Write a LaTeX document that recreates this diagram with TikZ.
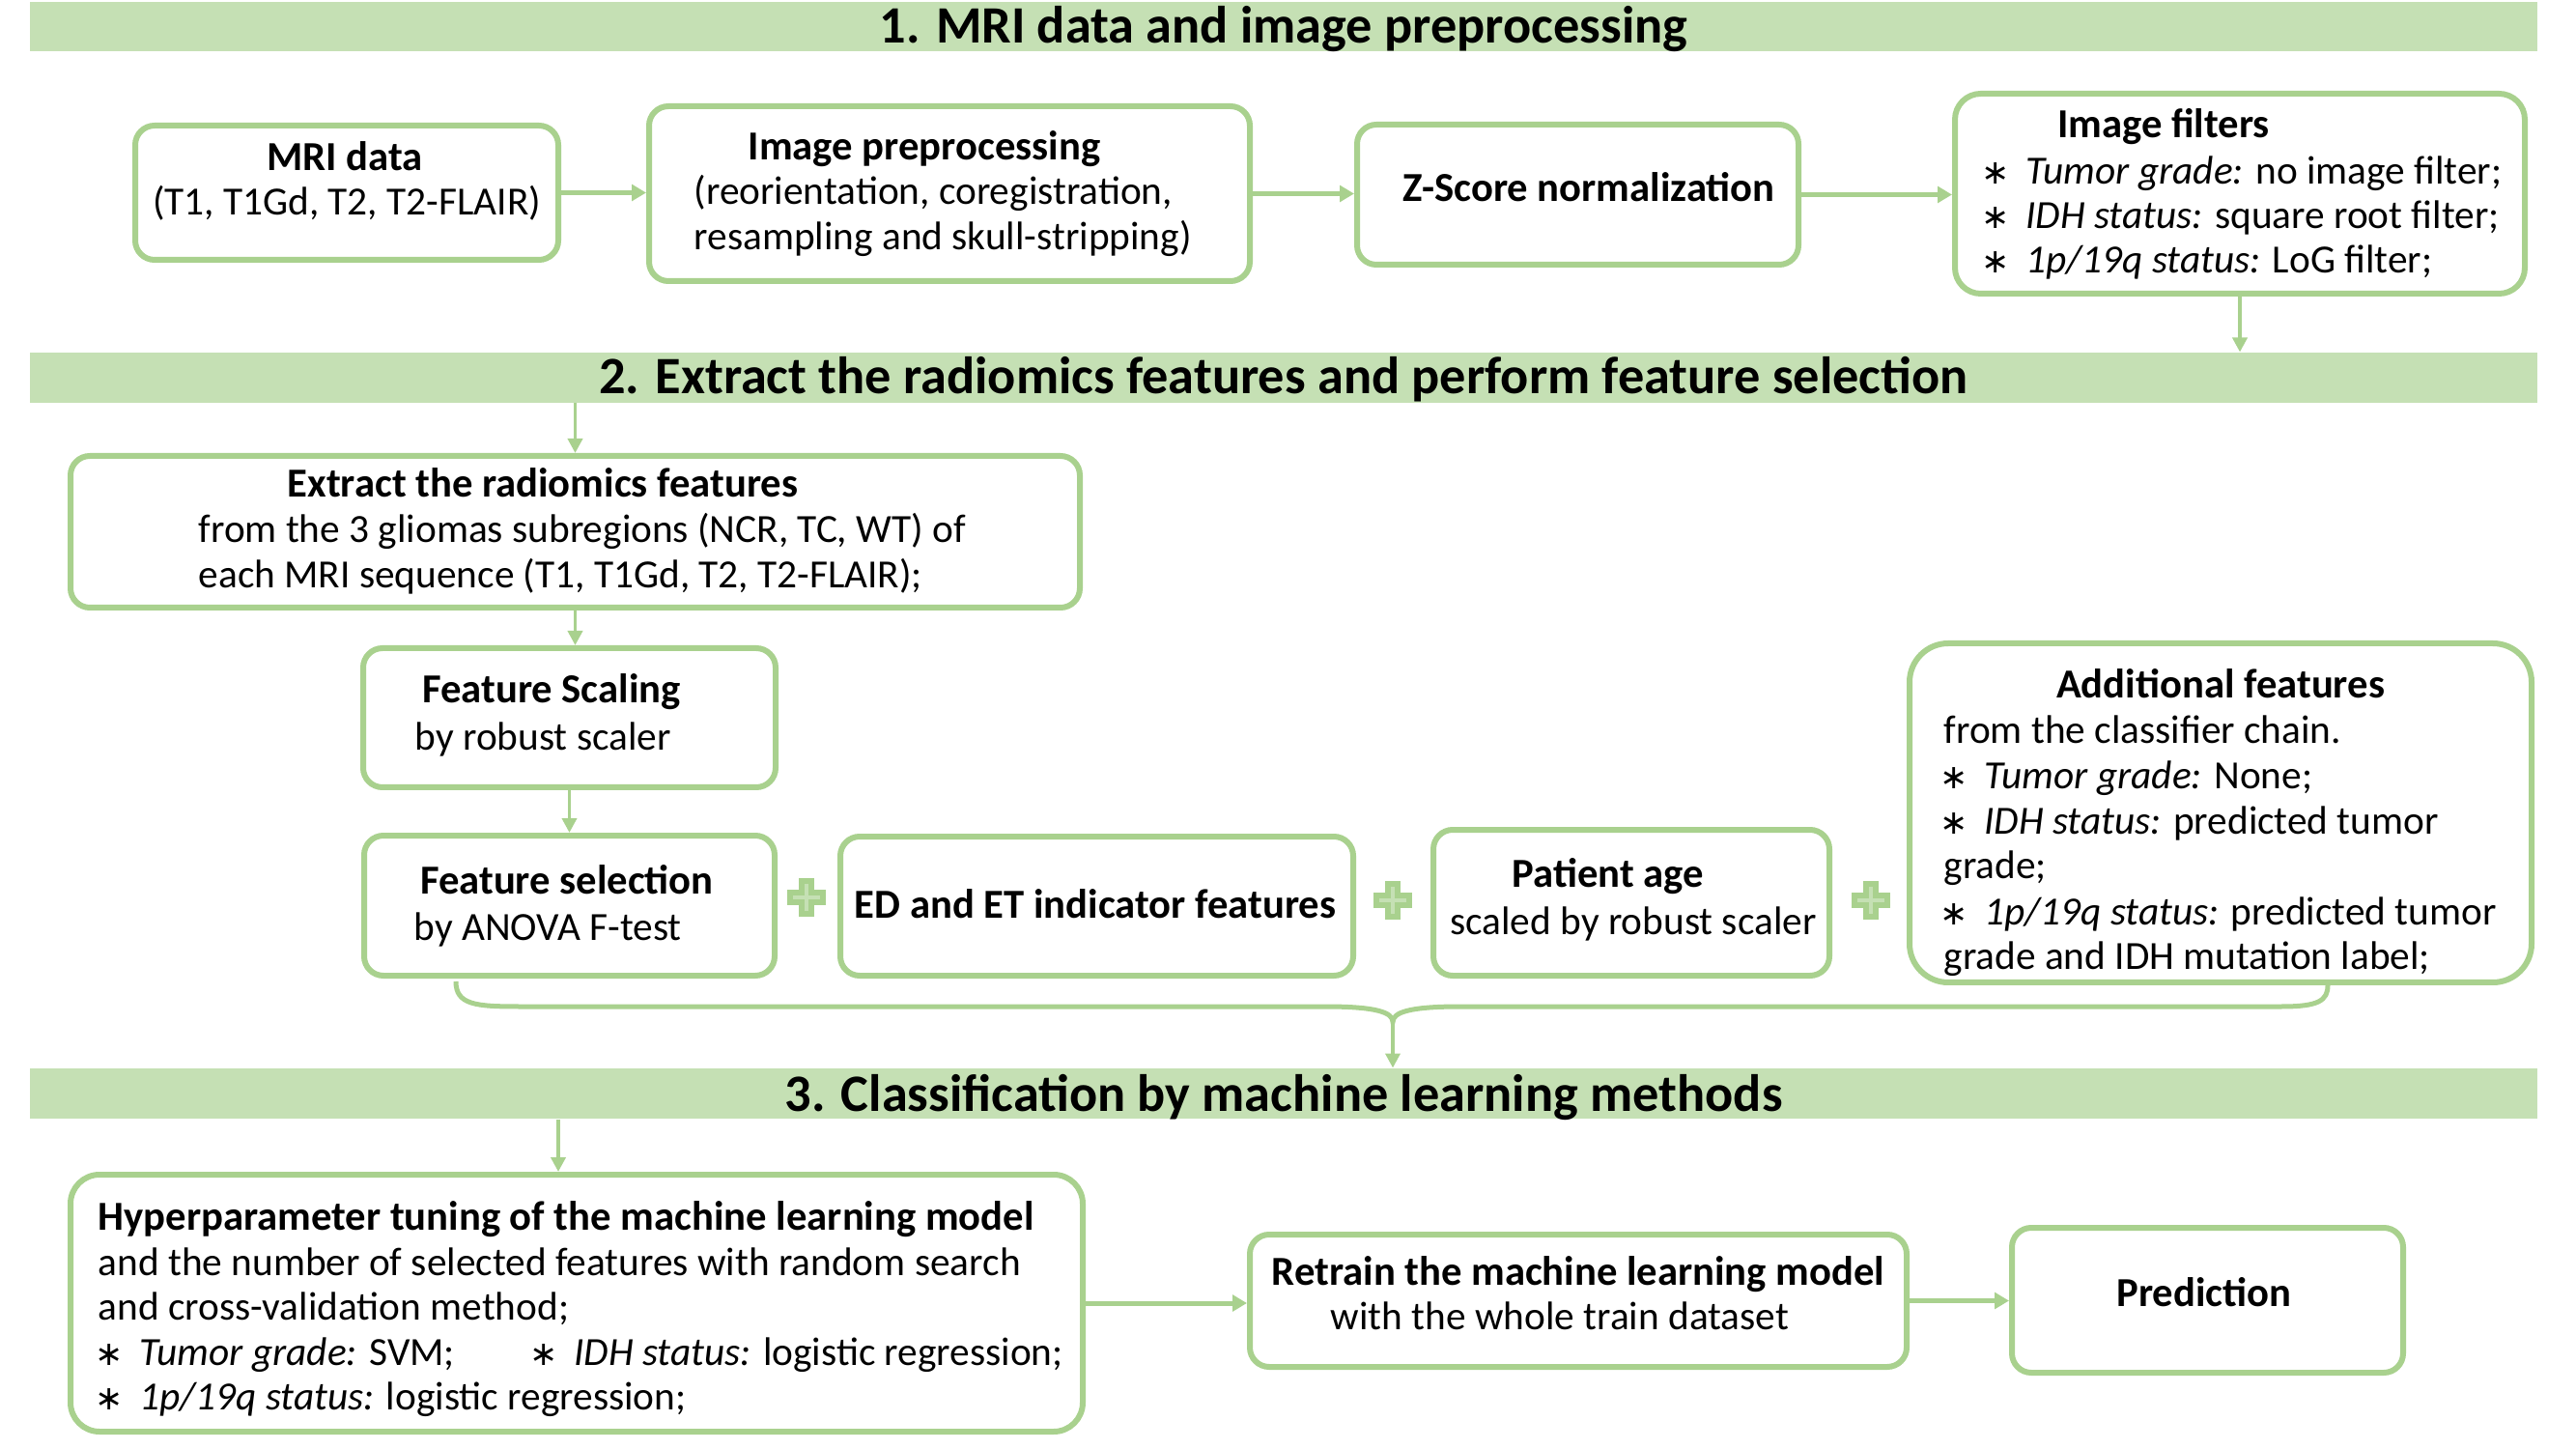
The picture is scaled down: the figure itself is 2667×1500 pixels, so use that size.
\documentclass[tikz,border=0pt]{standalone}
\usepackage{fontspec}
\setmainfont{Carlito}
\newfontfamily\djv{DejaVu Sans}
\usetikzlibrary{arrows.meta}
\definecolor{bandgreen}{HTML}{C5E0B4}
\definecolor{linegreen}{HTML}{A9D18E}
\newcommand\bul{\makebox[12pt][c]{\djv\fontsize{10.5}{12}\selectfont ∗}\hspace{3.5pt}}
\begin{document}
\begin{tikzpicture}[x=0.3pt,y=-0.3pt,
  box/.style={draw=linegreen, line width=1.8pt, rounded corners=6pt, fill=white, inner sep=0pt},
  band/.style={fill=bandgreen, draw=none, inner sep=0pt, minimum width=778.8pt, minimum height=15.5pt},
  bandtitle/.style={font=\fontsize{16.3}{19}\selectfont\bfseries, anchor=base, inner sep=0pt},
  ttl/.style={font=\fontsize{12.8}{14.1}\selectfont\bfseries, anchor=base, inner sep=0pt},
  ttlw/.style={font=\fontsize{12.8}{14.1}\selectfont\bfseries, anchor=base west, inner sep=0pt},
  txt/.style={font=\fontsize{12.4}{14.1}\selectfont, anchor=base west, inner sep=0pt},
  txtc/.style={font=\fontsize{12.4}{14.1}\selectfont, anchor=base, inner sep=0pt},
  arr/.style={draw=linegreen, line width=1.5pt, -{Triangle[length=4.5pt,width=5pt]}},
  varr/.style={draw=linegreen, line width=1.1pt, -{Triangle[length=4.5pt,width=4.5pt]}},
  brace/.style={draw=linegreen, line width=1.5pt},
]
\useasboundingbox (0,0) rectangle (2667,1500);

% bands
\node[band] (b1) at (1329,27.5) {};
\node[band] (b2) at (1329,391) {};
\node[band] (b3) at (1329,1132) {};
\node[bandtitle] (t0a) at (1329,45) {1. MRI data and image preprocessing};
\node[bandtitle] (t0b) at (1329,408) {2. Extract the radiomics features and perform feature selection};
\node[bandtitle] (t0c) at (1329,1150) {3. Classification by machine learning methods};

% boxes
\node[box, minimum width=131.4pt, minimum height=41.7pt] (mri) at (359,199.5) {};
\node[box, minimum width=186.6pt, minimum height=54.3pt] (pre) at (983,200.5) {};
\node[box, minimum width=137.1pt, minimum height=43.5pt] (zs) at (1633.5,201.5) {};
\node[box, minimum width=177pt, minimum height=62.1pt, rounded corners=8pt] (filt) at (2319,200.5) {};
\node[box, minimum width=313.5pt, minimum height=47.1pt] (ext) at (595.5,550.5) {};
\node[box, minimum width=128.1pt, minimum height=43.2pt] (scal) at (589.5,743) {};
\node[box, minimum width=127.5pt, minimum height=43.5pt] (sel) at (589.5,937.5) {};
\node[box, minimum width=159.3pt, minimum height=43.2pt] (ed) at (1135.5,938) {};
\node[box, minimum width=123pt, minimum height=45.3pt] (age) at (1689,934.5) {};
\node[box, minimum width=193.2pt, minimum height=105.3pt, rounded corners=12pt] (add) at (2299,841.5) {};
\node[box, minimum width=314.4pt, minimum height=79.8pt, rounded corners=9pt] (hyp) at (597,1349) {};
\node[box, minimum width=204pt, minimum height=41.1pt] (ret) at (1634,1346.5) {};
\node[box, minimum width=121.5pt, minimum height=45pt] (pred) at (2285.5,1346) {};

% texts
\node[ttl] (t1a) at (357,177) {MRI data};
\node[txtc] (t1b) at (359,223) {(T1, T1Gd, T2, T2-FLAIR)};
\node[ttl] (t2a) at (957,166) {Image preprocessing};
\node[txt] (t2b) at (718,212) {(reorientation, coregistration,};
\node[txt] (t2c) at (718,259) {resampling and skull-stripping)};
\node[ttl] (t3a) at (1645,209) {Z-Score normalization};
\node[ttl] (t4a) at (2240,143) {Image filters};
\node[txt] (t4b) at (2045,191) {\bul\textit{Tumor grade:} no image filter;};
\node[txt] (t4c) at (2045,237) {\bul\textit{IDH status:} square root filter;};
\node[txt] (t4d) at (2045,283) {\bul\textit{1p/19q status:} LoG filter;};
\node[ttl] (t5a) at (562,515) {Extract the radiomics features};
\node[txt] (t5b) at (205,562) {from the 3 gliomas subregions (NCR, TC, WT) of};
\node[txt] (t5c) at (205,609) {each MRI sequence (T1, T1Gd, T2, T2-FLAIR);};
\node[ttl] (t6a) at (571,728) {Feature Scaling};
\node[txt] (t6b) at (429,776) {by robust scaler};
\node[ttl] (t7a) at (587,925) {Feature selection};
\node[txt] (t7b) at (428,973) {by ANOVA F-test};
\node[ttl] (t8a) at (1134,950) {ED and ET indicator features};
\node[ttl] (t9a) at (1665,919) {Patient age};
\node[txtc] (t9b) at (1691,967) {scaled by robust scaler};
\node[ttl] (t10a) at (2299,723) {Additional features};
\node[txt] (t10b) at (2012,770) {from the classifier chain.};
\node[txt] (t10c) at (2002,817) {\bul\textit{Tumor grade:} None;};
\node[txt] (t10d) at (2002,863) {\bul\textit{IDH status:} predicted tumor};
\node[txt] (t10e) at (2012,910) {grade;};
\node[txt] (t10f) at (2002,957) {\bul\textit{1p/19q status:} predicted tumor};
\node[txt] (t10g) at (2012,1003) {grade and IDH mutation label;};
\node[ttlw] (t11a) at (101,1273) {Hyperparameter tuning of the machine learning model};
\node[txt] (t11b) at (101,1320) {and the number of selected features with random search};
\node[txt] (t11c) at (101,1366) {and cross-validation method;};
\node[txt] (t11d) at (92,1413) {\bul\textit{Tumor grade:} SVM;};
\node[txt] (t11e) at (542,1413) {\bul\textit{IDH status:} logistic regression;};
\node[txt] (t11f) at (92,1459) {\bul\textit{1p/19q status:} logistic regression;};
\node[ttl] (t12a) at (1634,1330) {Retrain the machine learning model};
\node[txtc] (t12b) at (1615,1376) {with the whole train dataset};
\node[ttl] (t13a) at (2282,1352) {Prediction};

% arrows
\draw[arr] (mri.east) -- (mri.east -| pre.west);
\draw[arr] (pre.east) -- (pre.east -| zs.west);
\draw[arr] (zs.east) -- (zs.east -| filt.west);
\draw[varr] (filt.south) -- (filt.south |- b2.north);
\draw[varr] (ext.north |- b2.south) -- (ext.north);
\draw[varr] (ext.south) -- (ext.south |- scal.north);
\draw[varr] (scal.south) -- (sel.north);
\draw[varr] ([xshift=-5.7pt]hyp.north |- b3.south) -- ([xshift=-5.7pt]hyp.north);
\draw[arr] (hyp.east) -- (hyp.east -| ret.west);
\draw[arr] (ret.east) -- (ret.east -| pred.west);

% brace
\coordinate (bl) at (472,1016);
\coordinate (br) at (2410,1020);
\coordinate (bm) at (1442,1058);
\draw[brace] (bl) .. controls (472,1040) and (492,1042) .. (538,1042) -- (1372,1042)
  .. controls (1425,1042) and (1442,1048) .. (bm)
  .. controls (1442,1048) and (1459,1042) .. (1512,1042) -- (2362,1042)
  .. controls (2400,1042) and (2410,1036) .. (br);
\draw[varr] (bm) -- (bm |- b3.north);

% plus signs
\foreach \px/\py in {835/928.5, 1442/932, 1937/932} {
  \draw[linegreen, line width=4.8pt] (\px-20,\py) -- (\px+20,\py) (\px,\py-20) -- (\px,\py+20);
  \draw[bandgreen, line width=1.2pt] (\px-14,\py) -- (\px+14,\py) (\px,\py-14) -- (\px,\py+14);
}
\end{tikzpicture}
\end{document}
